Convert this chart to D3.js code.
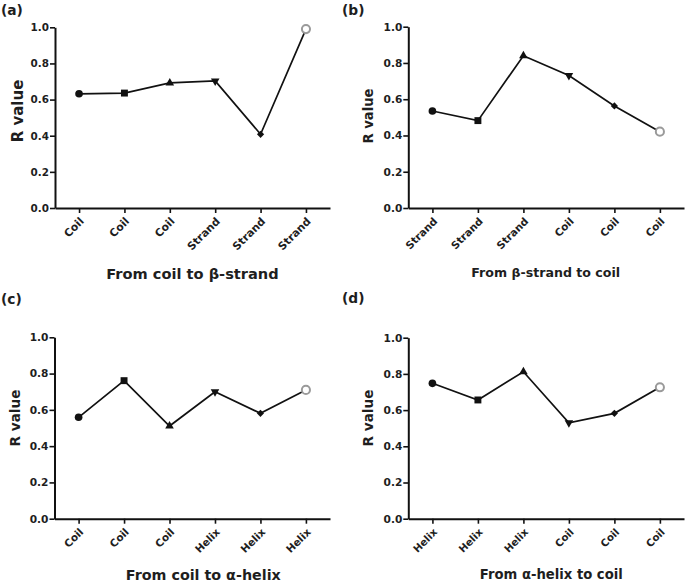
<!DOCTYPE html>
<html><head><meta charset="utf-8">
<script src="https://cdn.jsdelivr.net/npm/d3@7"></script>
<style>
body{margin:0;background:#fff}
svg{display:block}
text{font-family:"DejaVu Sans",Verdana,sans-serif;font-weight:bold;fill:#1e1e1e}
</style>
</head><body>
<svg id="c" width="685" height="581"></svg>
<script>
// ---- data ----
const catsA = ["Coil","Coil","Coil","Strand","Strand","Strand"];
const valsA = [0.632, 0.636, 0.692, 0.703, 0.408, 0.99];
const catsB = ["Strand","Strand","Strand","Coil","Coil","Coil"];
const valsB = [0.535, 0.482, 0.84, 0.731, 0.563, 0.421];
const catsC = ["Coil","Coil","Coil","Helix","Helix","Helix"];
const valsC = [0.559, 0.761, 0.511, 0.70, 0.581, 0.71];
const catsD = ["Helix","Helix","Helix","Coil","Coil","Coil"];
const valsD = [0.748, 0.656, 0.812, 0.53, 0.582, 0.726];
const panelLabels = ["(a)","(b)","(c)","(d)"];
const xTitles = ["From coil to \u03b2-strand","From \u03b2-strand to coil","From coil to \u03b1-helix","From \u03b1-helix to coil"];
const yTitle = "R value";
const yTicks = [0, 0.2, 0.4, 0.6, 0.8, 1.0];
const markerTypes = ["circle","square","triangle","triangleDown","diamond","open"];

// ---- layout ----
const layout = [
  {left:55,  right:330, top:27.3, bottom:208, lx:1,   ly:15,  ytx:23,  yty:111, yts:15,   tks:10.8, ytks:10.4, xtx:192.5, xty:278.5, xts:14.6},
  {left:408.3,right:684,top:26.7, bottom:208, lx:342, ly:15,  ytx:373, yty:116, yts:13.2, tks:10.4, ytks:10.6, xtx:545.7, xty:277, xts:12.6},
  {left:54.5,right:330, top:337.3,bottom:518.7,lx:1,  ly:304, ytx:20,  yty:418, yts:13.6, tks:10.4, ytks:10.6, xtx:203.3, xty:579.5, xts:14.3},
  {left:408.3,right:684,top:337.7,bottom:518.7,lx:342,ly:303, ytx:373, yty:418, yts:13.6, tks:10.2, ytks:10.6, xtx:551.3, xty:578.5, xts:13.2}
];
const cats = [catsA, catsB, catsC, catsD];
const vals = [valsA, valsB, valsC, valsD];

const svg = d3.select("#c");

function markerPath(t){
  if(t==="circle") return d3.symbol(d3.symbolCircle, 46)();
  if(t==="square") return d3.symbol(d3.symbolSquare, 48)();
  if(t==="triangle" || t==="triangleDown") return d3.symbol(d3.symbolTriangle, 32)();
  if(t==="diamond") return d3.symbol(d3.symbolSquare, 26)();
  return d3.symbol(d3.symbolCircle, 52)();
}

layout.forEach((L, i) => {
  const g = svg.append("g");
  const idx = d3.range(cats[i].length);
  const x = d3.scalePoint().domain(idx).range([L.left, L.right]).padding(0.53);
  const y = d3.scaleLinear().domain([0, 1]).range([L.bottom, L.top]);

  // y axis
  const ya = g.append("g").attr("transform", `translate(${L.left},0)`)
    .call(d3.axisLeft(y).tickValues(yTicks).tickFormat(d3.format(".1f")).tickSize(5).tickSizeOuter(0).tickPadding(1));
  ya.attr("font-family", null).attr("font-size", null);
  ya.select(".domain").attr("stroke", "#111").attr("stroke-width", 2);
  ya.selectAll(".tick line").attr("stroke", "#111").attr("stroke-width", 1.6);
  ya.selectAll(".tick text").style("font-size", L.ytks + "px").attr("fill", "#1e1e1e");

  // x axis
  const xa = g.append("g").attr("transform", `translate(0,${L.bottom})`)
    .call(d3.axisBottom(x).tickFormat(d => cats[i][d]).tickSize(5).tickSizeOuter(0));
  xa.attr("font-family", null).attr("font-size", null);
  xa.select(".domain").attr("stroke", "#111").attr("stroke-width", 2);
  xa.selectAll(".tick line").attr("stroke", "#111").attr("stroke-width", 1.6);
  xa.selectAll(".tick text")
    .attr("x", 0).attr("y", 0).attr("dy", 0)
    .attr("text-anchor", "end")
    .attr("transform", "translate(5,14) rotate(-45)")
    .style("font-size", L.tks + "px").attr("fill", "#1e1e1e");

  // line
  const line = d3.line().x((d, j) => x(j)).y(d => y(d));
  g.append("path").datum(vals[i]).attr("d", line)
    .attr("fill", "none").attr("stroke", "#111").attr("stroke-width", 1.7);

  // markers
  g.selectAll("path.m").data(vals[i]).enter().append("path")
    .attr("class", "m")
    .attr("d", (d, j) => markerPath(markerTypes[j]))
    .attr("transform", (d, j) => {
      const t = markerTypes[j];
      let r = "";
      if (t === "triangleDown") r = " rotate(180)";
      if (t === "diamond") r = " rotate(45)";
      return `translate(${x(j)},${y(d)})${r}`;
    })
    .attr("fill", (d, j) => markerTypes[j] === "open" ? "#fff" : "#111")
    .attr("stroke", (d, j) => markerTypes[j] === "open" ? "#9a9a9a" : "none")
    .attr("stroke-width", 2);

  // titles
  g.append("text").attr("x", L.lx).attr("y", L.ly).style("font-size", "13.8px").text(panelLabels[i]);
  g.append("text").attr("transform", `translate(${L.ytx},${L.yty}) rotate(-90)`)
    .attr("text-anchor", "middle").style("font-size", L.yts + "px").text(yTitle);
  g.append("text").attr("x", L.xtx).attr("y", L.xty).attr("text-anchor", "middle")
    .style("font-size", L.xts + "px").text(xTitles[i]);
});
</script>
</body></html>
